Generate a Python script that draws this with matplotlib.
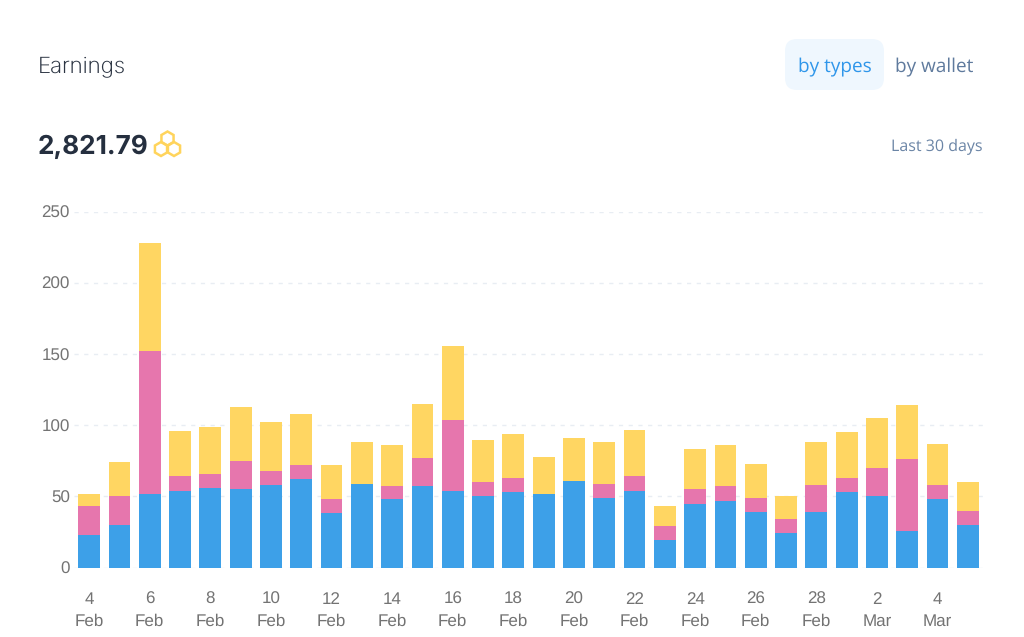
import matplotlib
matplotlib.use("Agg")
import matplotlib.pyplot as plt
from matplotlib.patches import FancyBboxPatch, RegularPolygon
import numpy as np

days = ["4", "5", "6", "7", "8", "9", "10", "11", "12", "13", "14", "15", "16", "17", "18",
        "19", "20", "21", "22", "23", "24", "25", "26", "27", "28", "1", "2", "3", "4", "5"]
months = ["Feb"] * 25 + ["Mar"] * 5

blue = [23, 30, 52, 54, 56, 55, 58, 62, 38, 59, 48, 57, 54, 50, 53,
        52, 61, 49, 54, 19, 45, 47, 39, 24, 39, 53, 50, 26, 48, 30]
pink = [20, 20, 100, 10, 10, 20, 10, 10, 10, 0, 9, 20, 50, 10, 10,
        0, 0, 10, 10, 10, 10, 10, 10, 10, 19, 10, 20, 50, 10, 10]
yellow = [9, 24, 76, 32, 33, 38, 34, 36, 24, 29, 29, 38, 52, 30, 31,
          26, 30, 29, 33, 14, 28, 29, 24, 16, 30, 32, 35, 38, 29, 20]

BLUE = "#3da0e8"
PINK = "#e676ad"
YELLOW = "#ffd662"
GRID = "#e8edf3"
TICK = "#737373"

plt.rcParams["text.hinting"] = "no_hinting"
plt.rcParams["text.hinting_factor"] = 1

W, H = 1024, 637
fig = plt.figure(figsize=(W / 100, H / 100), dpi=100, facecolor="white")

# chart area, given in pixels of the picture
left, right, top, bottom = 74, 983, 212, 567.5
ax = fig.add_axes([left / W, 1 - bottom / H, (right - left) / W, (bottom - top) / H])

x = np.arange(len(blue))
b = np.array(blue)
p = np.array(pink)
y = np.array(yellow)
ax.bar(x, b, width=0.72, color=BLUE, zorder=3)
ax.bar(x, p, width=0.72, bottom=b, color=PINK, zorder=3)
ax.bar(x, y, width=0.72, bottom=b + p, color=YELLOW, zorder=3)

ax.set_xlim(-0.5, 29.5)
ax.set_ylim(0, 250)
ax.set_yticks([0, 50, 100, 150, 200, 250])
ax.yaxis.grid(True, color=GRID, linestyle=(0, (3, 4)), linewidth=1, zorder=0)
ax.set_axisbelow(True)
ax.set_xticks(x[::2])
ax.set_xticklabels([f"{d}\n{m}" for d, m in zip(days[::2], months[::2])],
                   fontsize=12, color=TICK, family="Liberation Sans", linespacing=1.5)
for lab in ax.get_yticklabels():
    lab.set_fontsize(12)
    lab.set_color(TICK)
    lab.set_family("Liberation Sans")
ax.tick_params(axis="both", length=0)
ax.tick_params(axis="x", pad=17.5)
ax.tick_params(axis="y", pad=3)
for s in ax.spines.values():
    s.set_visible(False)
ax.patch.set_alpha(0)

# header drawn on an overlay in pixel coordinates
ov = fig.add_axes([0, 0, 1, 1], zorder=-1)
ov.set_xlim(0, W)
ov.set_ylim(H, 0)
ov.axis("off")

ov.text(38, 67, "Earnings", fontsize=16, family="Inter", fontweight="light", color="#2b3442",
        va="center", ha="left")
ov.text(38, 147, "2,821.79", fontsize=18.8, family="Inter", fontweight="bold", color="#252f3f",
        va="center", ha="left")

ov.add_patch(FancyBboxPatch((785, 39), 99, 51, boxstyle="round,pad=0,rounding_size=12",
                            fc="#eff7fe", ec="none"))
ov.text(834.5, 67, "by types", fontsize=14, family="Open Sans", color="#2f96ea", va="center", ha="center")
ov.text(934, 67, "by wallet", fontsize=13.8, family="Open Sans", color="#5f7a9d", va="center", ha="center")
ov.text(983, 147, "Last 30 days", fontsize=11.5, family="Open Sans", color="#6b85a6", va="center", ha="right")

# honeycomb icon
for cx, cy in [(167.5, 138.5), (161, 149), (174, 149)]:
    ov.add_patch(RegularPolygon((cx, cy), numVertices=6, radius=7, orientation=0,
                                fc="none", ec="#ffd45c", lw=1.8))

fig.savefig("out.png", dpi=100)
